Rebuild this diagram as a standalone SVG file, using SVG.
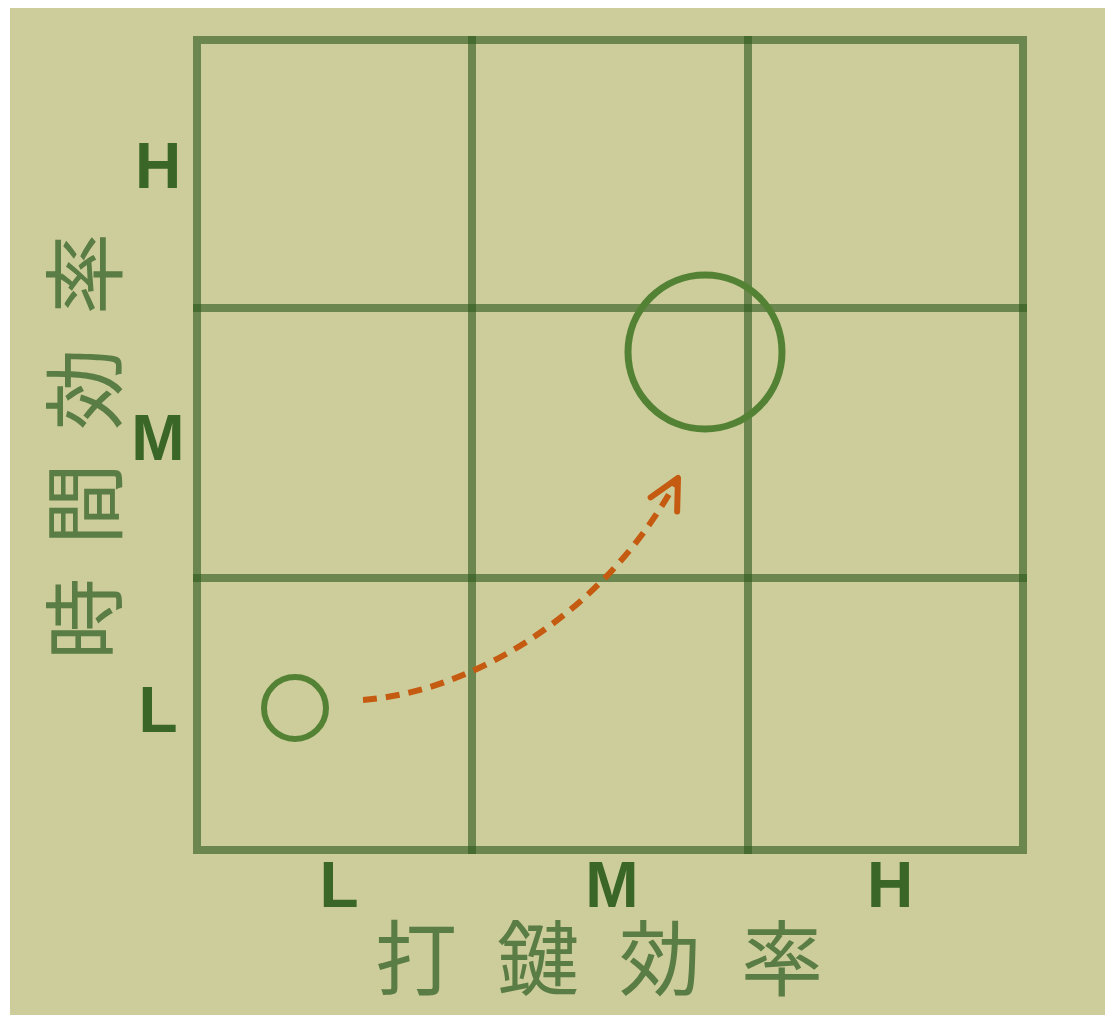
<svg xmlns="http://www.w3.org/2000/svg" width="1105" height="1015" viewBox="0 0 1105 1015">
  <style>
    .grid { stroke: #2f5a1e; stroke-opacity: 0.62; stroke-width: 8; fill: none; stroke-linecap: square; }
    .lvl { font-family: "Liberation Sans", Arial, sans-serif; font-weight: bold; font-size: 64px; fill: #3a6628; text-anchor: middle; }
    .axis { font-family: "Noto Sans CJK JP", "Noto Sans CJK TC", sans-serif; font-size: 82px; fill: #5a7c45; dominant-baseline: central; }
    .ring { fill: none; stroke: #548235; }
    .arrow { fill: none; stroke: #C55A11; stroke-width: 6; }
  </style>
  <defs>
    <marker id="chev" markerUnits="userSpaceOnUse" markerWidth="40" markerHeight="40" viewBox="-36 -20 40 40" refX="0" refY="0" orient="auto">
      <path d="M-30,-15 L0,0 L-30,15" fill="none" stroke="#C55A11" stroke-width="6" stroke-linecap="round" stroke-linejoin="round"/>
    </marker>
  </defs>
  <rect x="0" y="0" width="1105" height="1015" fill="#ffffff"/>
  <rect x="10" y="8" width="1095" height="1007" fill="#CDCD9B"/>

  <g id="grid">
    <rect class="grid" x="197" y="40" width="826" height="810"/>
    <line class="grid" x1="472" y1="40" x2="472" y2="850"/>
    <line class="grid" x1="748" y1="40" x2="748" y2="850"/>
    <line class="grid" x1="197" y1="308" x2="1023" y2="308"/>
    <line class="grid" x1="197" y1="578" x2="1023" y2="578"/>
  </g>

  <g id="y-labels">
    <text class="lvl" x="158" y="188">H</text>
    <text class="lvl" x="158" y="460">M</text>
    <text class="lvl" x="158" y="732">L</text>
  </g>
  <g id="x-labels">
    <text class="lvl" x="339" y="907">L</text>
    <text class="lvl" x="612" y="907">M</text>
    <text class="lvl" x="890" y="907">H</text>
  </g>

  <g id="y-axis-title">
    <text class="axis" transform="translate(79,660) rotate(-90)" x="0" y="0" letter-spacing="33">時間効率</text>
  </g>
  <g id="x-axis-title">
    <text class="axis" x="375" y="953" letter-spacing="40">打鍵効率</text>
  </g>

  <g id="start-node">
    <circle class="ring" cx="295" cy="708" r="31" stroke-width="6"/>
  </g>
  <g id="target-node">
    <circle class="ring" cx="705" cy="352" r="77" stroke-width="7"/>
  </g>

  <g id="connectors">
    <path class="arrow" d="M363,700 C470,692 605,615 678,478" stroke-dasharray="14 9" marker-end="url(#chev)"/>
  </g>
</svg>
